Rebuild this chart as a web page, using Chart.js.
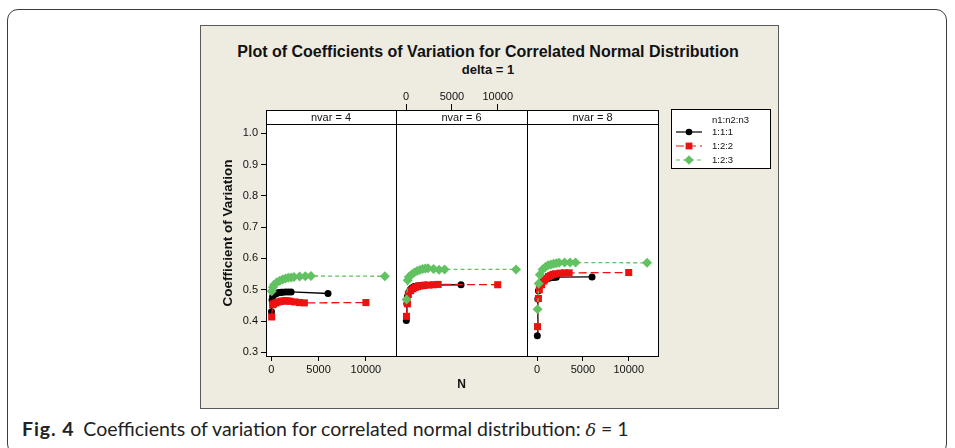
<!DOCTYPE html>
<html><head><meta charset="utf-8">
<script src="https://cdn.jsdelivr.net/npm/chart.js@4.4.1/dist/chart.umd.min.js"></script>
<style>
body{margin:0;width:955px;height:448px;background:#fff;position:relative;overflow:hidden;font-family:"Liberation Sans",Arial,sans-serif;color:#111}
.abs{position:absolute}
#outer{left:7px;top:9px;width:940px;height:446px;border:1px solid #3c3c3c;border-radius:11px;box-sizing:border-box}
#bg{left:200px;top:25px;width:579px;height:384px;background:#EEEBE1;border:1px solid #5a5a5a;box-sizing:border-box}
#title{left:200px;width:576px;top:43px;text-align:center;font-weight:bold;font-size:16px;white-space:nowrap}
#subtitle{left:200px;width:576px;top:62px;text-align:center;font-weight:bold;font-size:13px}
#plotbg{left:266px;top:110px;width:393px;height:247px;background:#fff}
.line{background:#000}
.hdr{top:110px;height:14px;line-height:14px;text-align:center;font-size:11px}
canvas{position:absolute}
#legend{left:671px;top:109px;width:100px;height:60px;background:#fff;border:1px solid #000;box-sizing:border-box;font-size:9.5px}
#legend .lt{position:absolute;left:40px;top:4px}
#legend .it{position:absolute;left:4px;height:12px;line-height:12px}
#legend .it span{position:absolute;left:36px;top:0;white-space:nowrap}
#caption{left:22px;top:417px;font-family:Lato,"Liberation Sans",sans-serif;font-size:19.5px;white-space:nowrap;color:#222}
#caption b{font-weight:bold;margin-right:9px;letter-spacing:0.9px}
</style></head>
<body>
<div id="outer" class="abs"></div>
<div id="bg" class="abs"></div>
<div id="title" class="abs">Plot of Coefficients of Variation for Correlated Normal Distribution</div>
<div id="subtitle" class="abs">delta = 1</div>
<div id="plotbg" class="abs"></div>
<canvas id="c1" width="196" height="310" style="left:200px;top:85px"></canvas>
<canvas id="c2" width="131" height="310" style="left:396px;top:85px"></canvas>
<canvas id="c3" width="131" height="310" style="left:527px;top:85px"></canvas>
<div id="frames"></div>
<div id="legend" class="abs"></div>
<div id="caption" class="abs"><b>Fig. 4</b>Coefficients of variation for correlated normal distribution: <i style="font-family:'DejaVu Serif',serif;font-size:17.5px">δ</i> = 1</div>
<script>
// ---- data ----
const panelNames = ['nvar = 4', 'nvar = 6', 'nvar = 8'];
const seriesNames = ['1:1:1', '1:2:2', '1:2:3'];
const legendTitle = 'n1:n2:n3';
const yTicks = [0.3, 0.4, 0.5, 0.6, 0.7, 0.8, 0.9, 1.0];
const xTicks = [0, 5000, 10000];

const N_111 = [30, 90, 150, 300, 450, 600, 750, 900, 1050, 1200, 1500, 1800, 2100, 6000];
const N_122 = [50, 150, 250, 500, 750, 1000, 1250, 1500, 1750, 2000, 2500, 3000, 3500, 10000];
const N_123 = [60, 180, 300, 600, 900, 1200, 1500, 1800, 2100, 2400, 3000, 3600, 4200, 12000];

const cv4_111 = [0.430, 0.467, 0.478, 0.484, 0.487, 0.489, 0.490, 0.491, 0.492, 0.492, 0.493, 0.493, 0.493, 0.488];
const cv4_122 = [0.413, 0.452, 0.455, 0.458, 0.461, 0.463, 0.464, 0.465, 0.464, 0.463, 0.461, 0.459, 0.458, 0.459];
const cv4_123 = [0.495, 0.508, 0.516, 0.524, 0.529, 0.533, 0.536, 0.538, 0.539, 0.541, 0.542, 0.543, 0.544, 0.543];

const cv6_111 = [0.402, 0.455, 0.478, 0.492, 0.500, 0.505, 0.508, 0.510, 0.511, 0.512, 0.513, 0.514, 0.515, 0.516];
const cv6_122 = [0.415, 0.455, 0.485, 0.497, 0.503, 0.507, 0.510, 0.512, 0.513, 0.514, 0.515, 0.516, 0.517, 0.516];
const cv6_123 = [0.469, 0.530, 0.541, 0.549, 0.555, 0.560, 0.563, 0.566, 0.568, 0.569, 0.566, 0.564, 0.565, 0.565];

const cv8_111 = [0.353, 0.470, 0.497, 0.512, 0.520, 0.525, 0.529, 0.532, 0.534, 0.536, 0.538, 0.539, 0.540, 0.541];
const cv8_122 = [0.382, 0.472, 0.500, 0.516, 0.528, 0.536, 0.542, 0.546, 0.549, 0.551, 0.553, 0.554, 0.554, 0.555];
const cv8_123 = [0.438, 0.520, 0.548, 0.565, 0.573, 0.578, 0.581, 0.583, 0.585, 0.586, 0.587, 0.587, 0.587, 0.586];

// ---- styles ----
const FONT = '"Liberation Sans", Arial, sans-serif';
Chart.defaults.font.family = FONT;
Chart.defaults.color = '#111';
const styles = [
  {color: '#000000', pointStyle: 'circle', radius: 3.5, dash: [], order: 3},
  {color: '#EE1111', pointStyle: 'rect', radius: 5, dash: [8, 4], order: 2},
  {color: '#62C262', pointStyle: 'rectRot', radius: 5, dash: [4, 3], order: 1}
];
const Y_MIN = 0.2882, Y_MAX = 1.0745, X_MIN = -550, X_MAX = 12650;

function pts(xs, ys) { return xs.map((x, i) => ({x: x, y: ys[i]})); }
function makeDatasets(s111, s122, s123) {
  const arr = [pts(N_111, s111), pts(N_122, s122), pts(N_123, s123)];
  return arr.map((d, i) => ({
    label: seriesNames[i], data: d, showLine: true,
    borderColor: styles[i].color, backgroundColor: styles[i].color,
    borderWidth: 1.3, borderDash: styles[i].dash,
    pointStyle: styles[i].pointStyle, pointRadius: styles[i].radius,
    pointBorderWidth: 0, pointBackgroundColor: styles[i].color,
    order: styles[i].order, tension: 0
  }));
}
const tickGrid = {display: true, drawOnChartArea: false, drawTicks: true, tickLength: 5, color: '#000', lineWidth: 1};
function setTicks(vals) { return function (scale) { scale.ticks = vals.map(v => ({value: v})); }; }

function makeChart(id, datasets, opts) {
  const scales = {
    x: {type: 'linear', position: 'bottom', min: X_MIN, max: X_MAX,
        afterBuildTicks: setTicks(xTicks), afterFit: s => { s.height = 39; },
        border: {display: false},
        grid: opts.bottomTicks ? tickGrid : {display: false},
        ticks: {display: opts.bottomTicks, autoSkip: false, padding: 2, font: {size: 11}, callback: v => String(v), maxRotation: 0},
        title: {display: !!opts.xTitle, text: opts.xTitle || '', font: {size: 12, weight: 'bold'}, padding: {top: 0, bottom: 3}, color: '#111'}},
    y: {type: 'linear', display: opts.yAxis, min: Y_MIN, max: Y_MAX,
        afterBuildTicks: setTicks(yTicks),
        border: {display: false}, grid: tickGrid,
        ticks: {padding: 3, font: {size: 11}, callback: v => Number(v).toFixed(1)},
        title: {display: true, text: 'Coefficient of Variation', font: {size: 13.5, weight: 'bold'}, padding: {top: 20, bottom: 0}, color: '#111'}}
  };
  if (opts.yAxis) scales.y.afterFit = s => { s.width = 66; };
  if (opts.topAxis) {
    scales.xTop = {type: 'linear', position: 'top', min: X_MIN, max: X_MAX,
      afterBuildTicks: setTicks(xTicks), afterFit: s => { s.height = 25; },
      border: {display: false}, grid: Object.assign({}, tickGrid, {tickLength: 6}),
      ticks: {autoSkip: false, padding: 0, font: {size: 11}, callback: v => String(v), maxRotation: 0}};
  }
  return new Chart(document.getElementById(id), {
    type: 'scatter',
    data: {datasets: datasets},
    options: {
      responsive: false, animation: false, devicePixelRatio: 1,
      layout: {padding: {top: opts.topAxis ? 0 : 25, left: 0, right: 0, bottom: 0}},
      plugins: {legend: {display: false}, tooltip: {enabled: false}, title: {display: false}},
      scales: scales
    }
  });
}

makeChart('c1', makeDatasets(cv4_111, cv4_122, cv4_123), {yAxis: true, bottomTicks: true});
makeChart('c2', makeDatasets(cv6_111, cv6_122, cv6_123), {yAxis: false, bottomTicks: false, topAxis: true, xTitle: 'N'});
makeChart('c3', makeDatasets(cv8_111, cv8_122, cv8_123), {yAxis: false, bottomTicks: true});

// ---- panel frames & strip headers ----
const frames = document.getElementById('frames');
const edges = [266, 396, 527, 658];
function addDiv(cls, css, text) {
  const d = document.createElement('div');
  d.className = 'abs ' + cls;
  d.style.cssText = css;
  if (text) d.textContent = text;
  frames.appendChild(d);
}
panelNames.forEach((name, i) => {
  addDiv('hdr', `left:${edges[i]}px;width:${edges[i + 1] - edges[i]}px;`, name);
});
edges.forEach(x => addDiv('line', `left:${x}px;top:110px;width:1px;height:247px;`));
addDiv('line', 'left:266px;top:110px;width:393px;height:1px;');
addDiv('line', 'left:266px;top:124px;width:393px;height:1px;');
addDiv('line', 'left:266px;top:356px;width:393px;height:1px;');

// ---- legend ----
const lg = document.getElementById('legend');
lg.innerHTML = `<div class="lt">${legendTitle}</div>`;
seriesNames.forEach((n, i) => {
  const st = styles[i];
  let marker = '';
  if (st.pointStyle === 'circle') marker = `<circle cx="13" cy="6" r="3.3" fill="${st.color}"/>`;
  if (st.pointStyle === 'rect') marker = `<rect x="9.6" y="2.6" width="6.8" height="6.8" fill="${st.color}"/>`;
  if (st.pointStyle === 'rectRot') marker = `<path d="M13 1.2 L17.8 6 L13 10.8 L8.2 6 Z" fill="${st.color}"/>`;
  const dash = st.dash.length ? `stroke-dasharray="${st.dash.join(',')}"` : '';
  const it = document.createElement('div');
  it.className = 'it';
  it.style.top = (16 + i * 14) + 'px';
  it.innerHTML = `<svg width="27" height="12" style="position:absolute;left:0;top:0"><line x1="0" y1="6" x2="26" y2="6" stroke="${st.color}" stroke-width="1.2" ${dash}/>${marker}</svg><span>${n}</span>`;
  lg.appendChild(it);
});
</script>
</body></html>
